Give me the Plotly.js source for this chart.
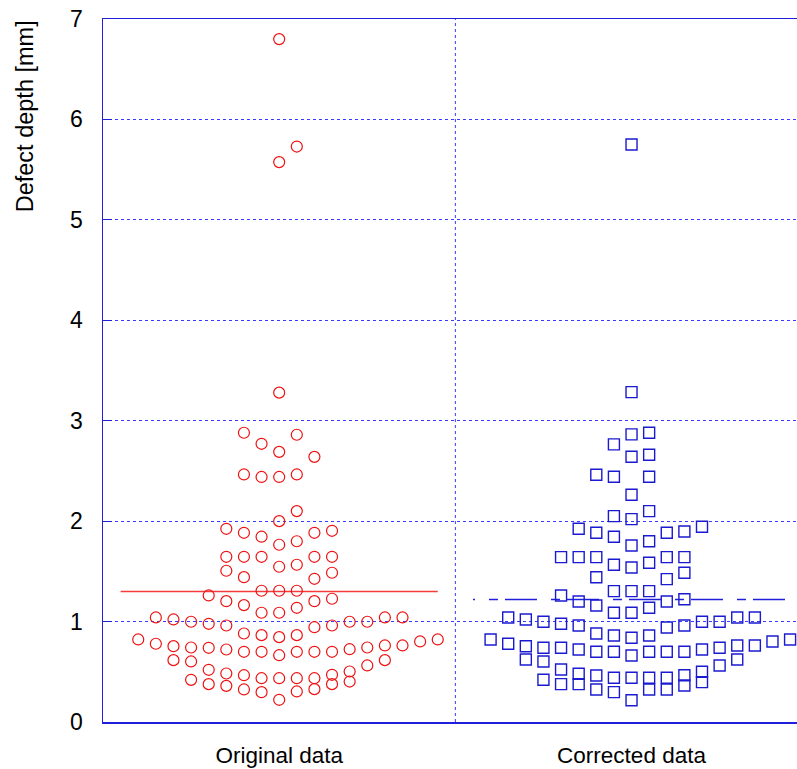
<!DOCTYPE html>
<html>
<head>
<meta charset="utf-8">
<script src="https://cdn.plot.ly/plotly-3.0.1.min.js"></script>
<style>
  html, body { margin: 0; padding: 0; background: #ffffff; }
  #chart { width: 797px; height: 769px; }
</style>
</head>
<body>
<div id="chart"></div>
<script>
// ---------------- data ----------------
const categories = ['Original data', 'Corrected data'];

// Original data: defect depth [mm] and swarm slot (horizontal position index)
const origDepth = [
  6.80, 5.73, 5.575, 3.28,
  2.88, 2.86, 2.77, 2.69, 2.64, 2.465, 2.44, 2.44, 2.465, 2.10, 2.00,
  1.924, 1.884, 1.845, 1.765, 1.80, 1.884, 1.904,
  1.645, 1.645, 1.645, 1.546, 1.566, 1.645, 1.645,
  1.506, 1.442, 1.426, 1.486,
  1.307, 1.307, 1.307, 1.26, 1.203, 1.164, 1.203, 1.227,
  1.088, 1.088, 1.137,
  1.041, 1.021, 0.998, 0.978, 0.961, 0.881, 0.865, 0.845, 0.865, 0.944, 0.961, 0.998, 0.998, 1.041, 1.041,
  0.822, 0.779, 0.755, 0.742, 0.739, 0.722, 0.699, 0.699, 0.665, 0.699, 0.699, 0.699, 0.725, 0.742, 0.762, 0.762, 0.802, 0.822,
  0.616, 0.603, 0.563, 0.616,
  0.52, 0.483, 0.466, 0.436, 0.436, 0.436, 0.436, 0.47, 0.503,
  0.42, 0.377, 0.36, 0.324, 0.297, 0.221, 0.304, 0.327, 0.377, 0.403
];
const origSlot = [
  0, 1, 0, 0,
  -2, 1, -1, 0, 2, -2, -1, 0, 1, 1, 0,
  -3, -2, -1, 0, 1, 2, 3,
  -3, -2, -1, 0, 1, 2, 3,
  -3, -2, 2, 3,
  -1, 0, 1, -4, -3, -2, 2, 3,
  -1, 0, 1,
  -7, -6, -5, -4, -3, -2, -1, 0, 1, 2, 3, 4, 5, 6, 7,
  -8, -7, -6, -5, -4, -3, -2, -1, 0, 1, 2, 3, 4, 5, 6, 7, 8, 9,
  -6, -5, 5, 6,
  -4, -3, -2, -1, 0, 1, 2, 3, 4,
  -5, -4, -3, -2, -1, 0, 1, 2, 3, 4
];

// Corrected data
const corrDepth = [
  5.75, 3.285,
  2.864, 2.88, 2.764, 2.641, 2.661, 2.462, 2.442, 2.442, 2.263, 2.05, 2.02, 2.10,
  1.924, 1.884, 1.845, 1.758, 1.80, 1.884, 1.897, 1.944,
  1.642, 1.642, 1.642, 1.566, 1.539, 1.585, 1.642, 1.642,
  1.442, 1.423, 1.486,
  1.303, 1.303, 1.303, 1.26, 1.20, 1.16, 1.20, 1.223,
  1.088, 1.088, 1.137,
  1.041, 1.021, 0.998, 0.978, 0.961, 0.881, 0.862, 0.839, 0.862, 0.941, 0.961, 0.998, 0.998, 1.041, 1.041,
  0.822, 0.779, 0.755, 0.739, 0.739, 0.722, 0.699, 0.699, 0.662, 0.699, 0.699, 0.699, 0.722, 0.739, 0.762, 0.762, 0.802, 0.822,
  0.623, 0.603, 0.563, 0.623,
  0.523, 0.48, 0.463, 0.44, 0.44, 0.44, 0.44, 0.466, 0.50,
  0.42, 0.377, 0.377, 0.324, 0.297, 0.217, 0.324, 0.324, 0.364, 0.397
];
const corrSlot = [
  0, 0,
  0, 1, -1, 0, 1, -2, -1, 1, 0, -1, 0, 1,
  -3, -2, -1, 0, 1, 2, 3, 4,
  -4, -3, -2, -1, 0, 1, 2, 3,
  -2, 2, 3,
  -1, 0, 1, -4, -3, -2, 2, 3,
  -1, 0, 1,
  -7, -6, -5, -4, -3, -2, -1, 0, 1, 2, 3, 4, 5, 6, 7,
  -8, -7, -6, -5, -4, -3, -2, -1, 0, 1, 2, 3, 4, 5, 6, 7, 8, 9,
  -6, -5, 5, 6,
  -4, -3, -2, -1, 0, 1, 2, 3, 4,
  -5, -4, -3, -2, -1, 0, 1, 2, 3, 4
];

// summary lines drawn across each group
const origCentre = 1.30;
const corrCentre = 1.22;

const yTicks = [0, 1, 2, 3, 4, 5, 6, 7];

// ---------------- drawing ----------------
const SLOT_STEP = 0.05;   // horizontal spacing of swarm slots (category units)
const HALF_LINE = 0.45;   // half width of summary line
const FONT = 'Liberation Sans, Arial, Helvetica, sans-serif';
const BLUE = '#2020dc';
const GRID = '#3a3aff';

function pos(catIndex, slots) {
  return slots.map(s => (catIndex + 1) + s * SLOT_STEP);
}

const traces = [
  {
    type: 'scatter', mode: 'lines',
    x: [1 - HALF_LINE, 1 + HALF_LINE], y: [origCentre, origCentre],
    line: { color: 'rgb(245,60,60)', width: 1.5 },
    hoverinfo: 'skip'
  },
  {
    type: 'scatter', mode: 'lines',
    x: [2 - HALF_LINE, 2 + HALF_LINE], y: [corrCentre, corrCentre],
    line: { color: BLUE, width: 1.4, dash: '2px,14px,9px,7px,30px,0px' },
    hoverinfo: 'skip'
  },
  {
    type: 'scatter', mode: 'markers', name: categories[0],
    x: pos(0, origSlot), y: origDepth,
    marker: { symbol: 'circle-open', size: 11, color: '#ee1111', line: { width: 1.2, color: '#ee1111' } }
  },
  {
    type: 'scatter', mode: 'markers', name: categories[1],
    x: pos(1, corrSlot), y: corrDepth,
    marker: { symbol: 'square-open', size: 11, color: '#1a1ad0', line: { width: 1.4, color: '#1a1ad0' } }
  }
];

const layout = {
  width: 797, height: 769,
  margin: { l: 103, r: 0, t: 19, b: 47 },
  paper_bgcolor: '#ffffff', plot_bgcolor: '#ffffff',
  showlegend: false,
  font: { family: FONT, size: 23, color: '#000000' },
  xaxis: {
    type: 'linear',
    range: [0.5, 2.4696],
    tickvals: [1, 2], ticktext: categories,
    ticks: '', showgrid: false, zeroline: false,
    showline: true, linecolor: BLUE, linewidth: 1.5, mirror: true,
    tickfont: { family: FONT, size: 22.5, color: '#000000' },
    ticklabelstandoff: 12,
    fixedrange: true
  },
  yaxis: {
    range: [0, 7],
    tickvals: yTicks,
    ticks: 'inside', ticklen: 9, tickcolor: BLUE, tickwidth: 1,
    showgrid: true, gridcolor: GRID, gridwidth: 1, griddash: '3px,3px',
    zeroline: false,
    showline: true, linecolor: BLUE, linewidth: 1.5, mirror: false,
    tickfont: { family: FONT, size: 23, color: '#000000' },
    ticklabelstandoff: 14,
    fixedrange: true
  },
  shapes: [
    { type: 'line', xref: 'x', yref: 'y', x0: 1.5, x1: 1.5, y0: 0, y1: 7,
      line: { color: GRID, width: 1, dash: '3px,3px' }, layer: 'below' }
  ],
  annotations: [
    { text: 'Defect depth [mm]', textangle: -90, showarrow: false,
      xref: 'paper', yref: 'paper', x: -0.112, y: 0.862,
      xanchor: 'center', yanchor: 'middle',
      font: { family: FONT, size: 23.5, color: '#000000' } }
  ]
};

Plotly.newPlot('chart', traces, layout, { staticPlot: true, displayModeBar: false });
</script>
</body>
</html>
